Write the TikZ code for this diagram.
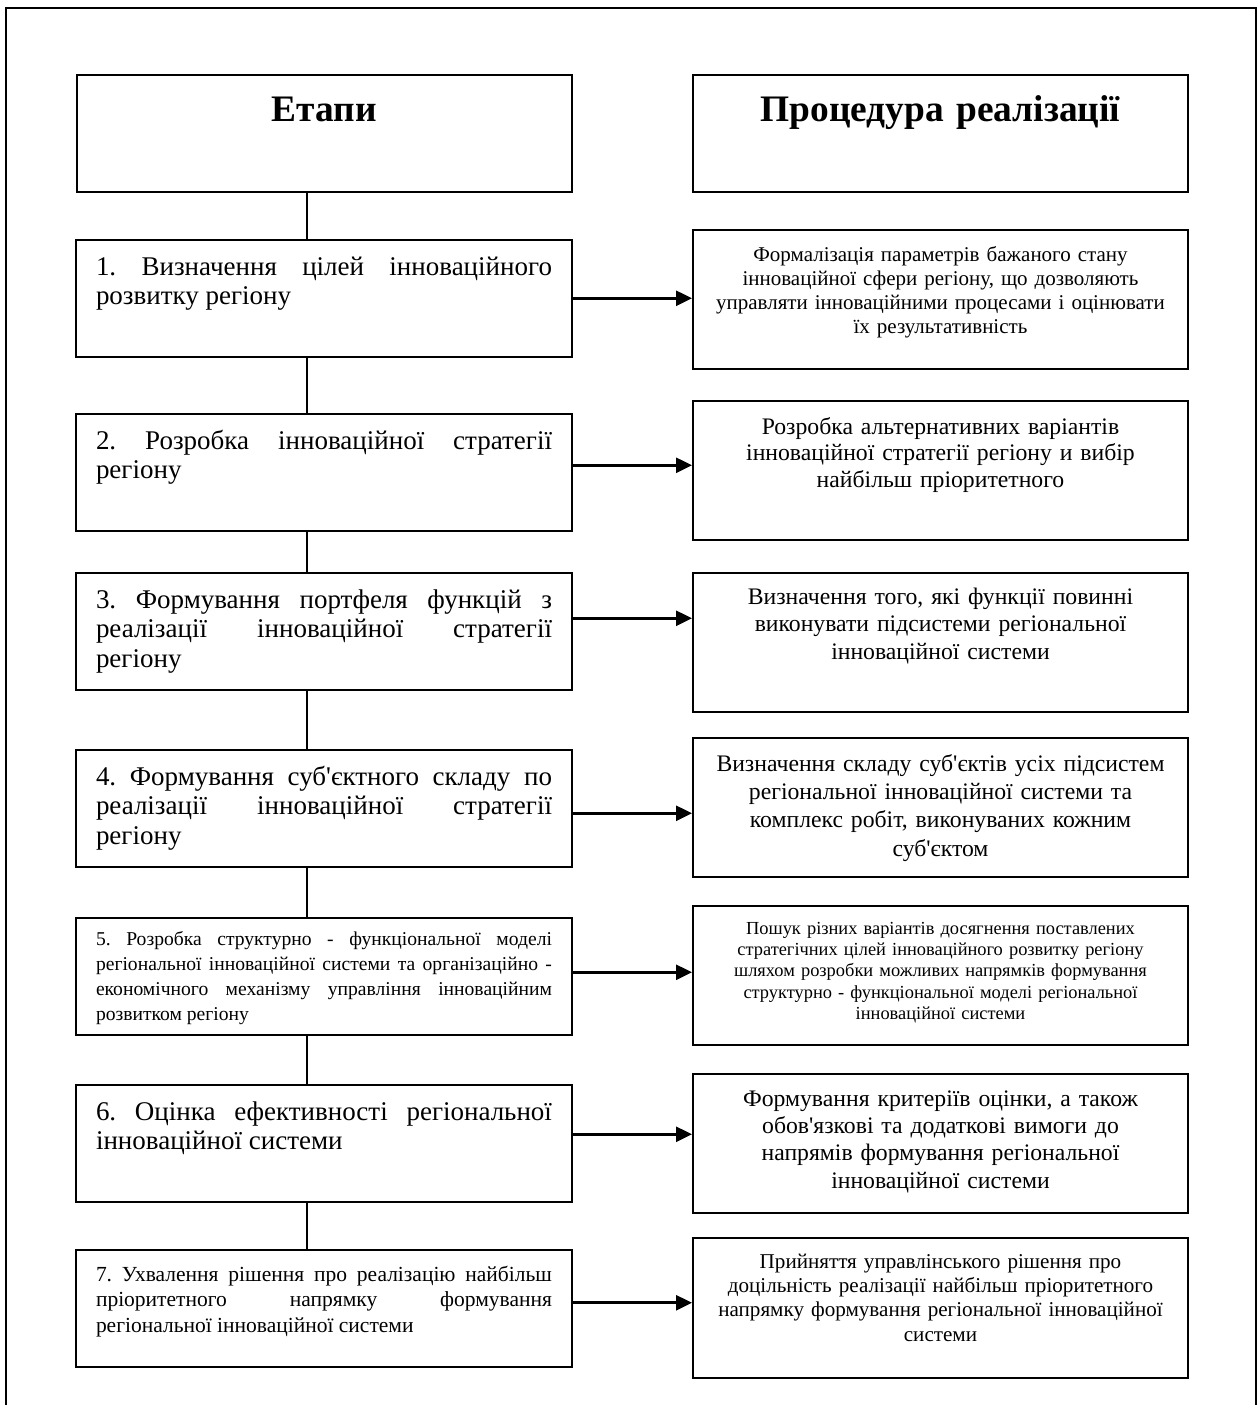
\documentclass[tikz,border=0pt]{standalone}
\usepackage{fontspec}
\newfontfamily\tnr{Liberation Serif}
\usetikzlibrary{arrows.meta,positioning}
\tikzset{
  headbox/.style={draw,line width=1pt,text width=237.5pt,inner xsep=5pt,inner ysep=0pt,align=center,anchor=north,font=\tnr\fontsize{18.7}{21}\selectfont\bfseries,text height=23pt,text depth=35.5pt},
  stagebox/.style={draw,line width=1pt,text width=228pt,inner xsep=10pt,inner ysep=0pt,align=justify,anchor=north,font=\tnr\fontsize{13.5}{14.8}\selectfont,text height=17.5pt,text depth=40.75pt},
  procbox/.style={draw,line width=1pt,text width=237.5pt,inner xsep=5pt,inner ysep=0pt,align=center,anchor=north},
  link/.style={line width=1pt},
  arr/.style={-{Triangle[length=8pt,width=7.5pt]},line width=1.3pt},
}
\frenchspacing
\begin{document}
\begin{tikzpicture}[x=0.5pt,y=-0.5pt]
  \useasboundingbox (0,0) rectangle (1259,1405);
  % outer frame, open at the bottom
  \draw[link] (6,1405) -- (6,8) -- (1256,8) -- (1256,1405);
  % headers
  \node[headbox] (hst) at (324,74) {Етапи};
  \node[headbox] (hpr) at (940.5,74) {Процедура реалізації};
  % stages (left column)
  \node[stagebox] (s1) at (324,239) {1. Визначення цілей інноваційного\linebreak розвитку регіону};
  \node[stagebox] (s2) at (324,413) {2. Розробка інноваційної стратегії\linebreak регіону};
  \node[stagebox] (s3) at (324,572) {3. Формування портфеля функцій з\linebreak реалізації інноваційної стратегії\linebreak регіону};
  \node[stagebox] (s4) at (324,749) {4. Формування суб'єктного складу по\linebreak реалізації інноваційної стратегії\linebreak регіону};
  \node[stagebox,font=\tnr\fontsize{9.8}{12.5}\selectfont,text height=13.5pt,text depth=44.75pt] (s5) at (324,917)
    {5. Розробка структурно - функціональної моделі\linebreak регіональної інноваційної системи та організаційно -\linebreak економічного механізму управління інноваційним\linebreak розвитком регіону};
  \node[stagebox] (s6) at (324,1084) {6. Оцінка ефективності регіональної\linebreak інноваційної системи};
  \node[stagebox,font=\tnr\fontsize{10.75}{12.85}\selectfont,text height=15.5pt,text depth=42.75pt] (s7) at (324,1249)
    {7. Ухвалення рішення про реалізацію найбільш\linebreak пріоритетного напрямку формування\linebreak регіональної інноваційної системи};
  % procedures (right column)
  \node[procbox,font=\tnr\fontsize{10.5}{12}\selectfont,text height=15.5pt,text depth=54pt] (p1) at (940.5,229)
    {Формалізація параметрів бажаного стану\\ інноваційної сфери регіону, що дозволяють\\ управляти інноваційними процесами і оцінювати\\ їх результативність};
  \node[procbox,font=\tnr\fontsize{11.85}{13.3}\selectfont,text height=16.5pt,text depth=53pt] (p2) at (940.5,400)
    {Розробка альтернативних варіантів\\ інноваційної стратегії регіону и вибір\\ найбільш пріоритетного};
  \node[procbox,font=\tnr\fontsize{11.85}{13.75}\selectfont,text height=15.5pt,text depth=54pt] (p3) at (940.5,572)
    {Визначення того, які функції повинні\\ виконувати підсистеми регіональної\\ інноваційної системи};
  \node[procbox,font=\tnr\fontsize{11.85}{14.2}\selectfont,text height=16.5pt,text depth=53pt] (p4) at (940.5,737)
    {Визначення складу суб'єктів усіх підсистем\\ регіональної інноваційної системи та\\ комплекс робіт, виконуваних кожним\\ суб'єктом};
  \node[procbox,font=\tnr\fontsize{9.2}{10.7}\selectfont,text height=14pt,text depth=55.5pt] (p5) at (940.5,905)
    {Пошук різних варіантів досягнення поставлених\\ стратегічних цілей інноваційного розвитку регіону\\ шляхом розробки можливих напрямків формування\\ структурно - функціональної моделі регіональної\\ інноваційної системи};
  \node[procbox,font=\tnr\fontsize{11.85}{13.7}\selectfont,text height=16pt,text depth=53.5pt] (p6) at (940.5,1073)
    {Формування критеріїв оцінки, а також\\ обов'язкові та додаткові вимоги до\\ напрямів формування регіональної\\ інноваційної системи};
  \node[procbox,font=\tnr\fontsize{10.55}{12.2}\selectfont,text height=15pt,text depth=55pt] (p7) at (940.5,1237)
    {Прийняття управлінського рішення про\\ доцільність реалізації найбільш пріоритетного\\ напрямку формування регіональної інноваційної\\ системи};
  % vertical links between stages
  \draw[link] ([xshift=-8.5pt]hst.south) -- ([xshift=-8.5pt]s1.north);
  \draw[link] ([xshift=-8.5pt]s1.south) -- ([xshift=-8.5pt]s2.north);
  \draw[link] ([xshift=-8.5pt]s2.south) -- ([xshift=-8.5pt]s3.north);
  \draw[link] ([xshift=-8.5pt]s3.south) -- ([xshift=-8.5pt]s4.north);
  \draw[link] ([xshift=-8.5pt]s4.south) -- ([xshift=-8.5pt]s5.north);
  \draw[link] ([xshift=-8.5pt]s5.south) -- ([xshift=-8.5pt]s6.north);
  \draw[link] ([xshift=-8.5pt]s6.south) -- ([xshift=-8.5pt]s7.north);
  % arrows stage -> procedure
  \draw[arr] (s1.east) -- (s1.east -| p1.west);
  \draw[arr] ([yshift=3.5pt]s2.east) -- ([yshift=3.5pt]s2.east -| p2.west);
  \draw[arr] ([yshift=6.5pt]s3.east) -- ([yshift=6.5pt]s3.east -| p3.west);
  \draw[arr] ([yshift=-2.5pt]s4.east) -- ([yshift=-2.5pt]s4.east -| p4.west);
  \draw[arr] ([yshift=2pt]s5.east) -- ([yshift=2pt]s5.east -| p5.west);
  \draw[arr] ([yshift=4.5pt]s6.east) -- ([yshift=4.5pt]s6.east -| p6.west);
  \draw[arr] ([yshift=2.75pt]s7.east) -- ([yshift=2.75pt]s7.east -| p7.west);
\end{tikzpicture}
\end{document}
